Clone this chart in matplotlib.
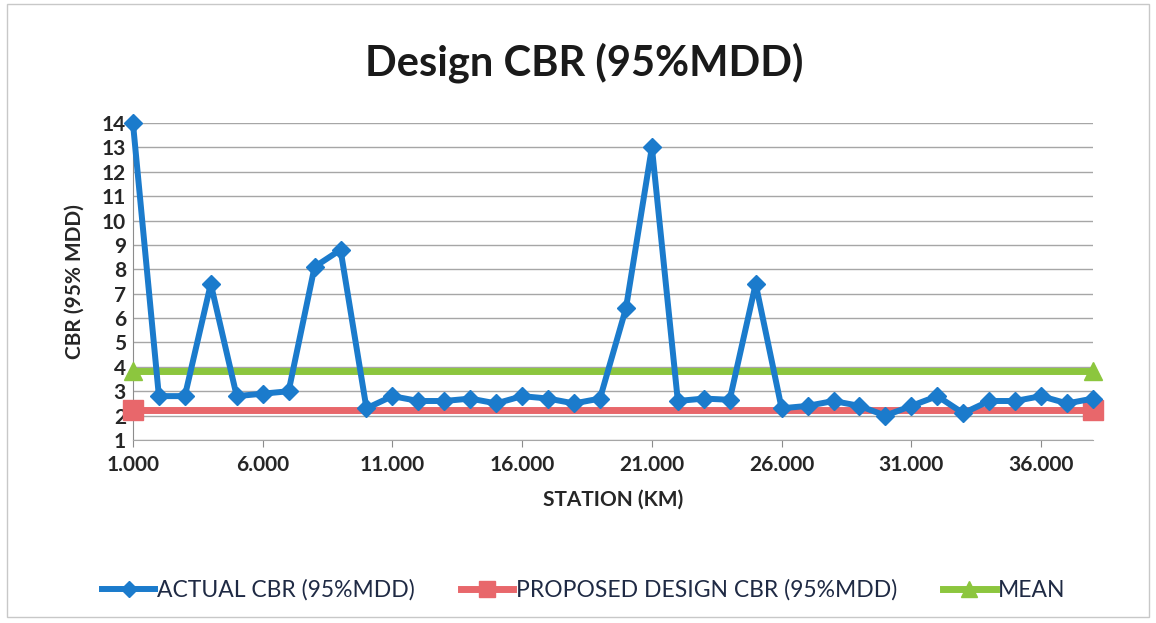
import matplotlib
matplotlib.use("Agg")
from matplotlib import pyplot as plt
from matplotlib.patches import Rectangle
import numpy as np

plt.rcParams['font.family'] = ['Lato', 'DejaVu Sans']

# stations along the road (km)
stations = list(range(1, 39))

# CBR, one per station
actual_cbr = [14.0, 2.8, 2.8, 7.4, 2.8, 2.9, 3.0, 8.1, 8.8, 2.3,
              2.8, 2.6, 2.6, 2.7, 2.5, 2.8, 2.7, 2.5, 2.7, 6.4,
              13.0, 2.6, 2.7, 2.65, 7.4, 2.3, 2.4, 2.6, 2.4, 2.0,
              2.4, 2.8, 2.1, 2.6, 2.6, 2.8, 2.5, 2.7]

# the two flat lines only have points at the ends
design_x = [1, 38]
design_cbr = [2.25, 2.25]
mean_x = [1, 38]
mean_cbr = [3.85, 3.85]

x_ticks = [1, 6, 11, 16, 21, 26, 31, 36]
y_ticks = list(range(1, 15))

blue = "#1b7bcc"
red = "#e8676b"
green = "#8cc63e"

fig = plt.figure(figsize=(11.56, 6.23), dpi=100)
ax = fig.add_axes([0.115, 0.2937, 0.8305, 0.5089])

# light frame round the whole chart
fig.patches.append(Rectangle((0.006, 0.01), 0.988, 0.983, transform=fig.transFigure,
                             fill=False, edgecolor="#c8c8c8", linewidth=1))

ax.plot(stations, actual_cbr, color=blue, linewidth=4.3, marker="D", markersize=9,
        label="ACTUAL CBR (95%MDD)", zorder=4, clip_on=False)
ax.plot(design_x, design_cbr, color=red, linewidth=5, marker="s", markersize=14,
        label="PROPOSED DESIGN CBR (95%MDD)", zorder=3, clip_on=False)
ax.plot(mean_x, mean_cbr, color=green, linewidth=5, marker="^", markersize=13,
        label="MEAN", zorder=3, clip_on=False)

ax.set_xlim(1, 38)
ax.set_ylim(1, 14)
ax.set_xticks(x_ticks)
ax.set_xticklabels(["%.3f" % v for v in x_ticks])
ax.set_yticks(y_ticks)

ax.grid(axis="y", color="#a6a6a6", linewidth=1)
ax.set_axisbelow(True)
for side in ["top", "right"]:
    ax.spines[side].set_visible(False)
ax.spines["left"].set_color("#8c8c8c")
ax.spines["bottom"].set_color("#a6a6a6")
ax.tick_params(axis="x", direction="out", length=5, color="#8c8c8c", pad=6)
ax.tick_params(axis="y", length=0, pad=5)
for lab in ax.get_xticklabels() + ax.get_yticklabels():
    lab.set_fontsize(15)
    lab.set_fontweight("bold")
    lab.set_color("#262626")

ax.set_xlabel("STATION (KM)", fontsize=15, fontweight="bold", color="#262626", labelpad=10)
ax.set_ylabel("CBR (95% MDD)", fontsize=15, fontweight="bold", color="#262626", labelpad=12)

fig.text(0.505, 0.9, "Design CBR (95%MDD)", ha="center", va="center",
         fontsize=30, fontweight="bold", color="#1a1a1a")

leg = fig.legend(loc="center", bbox_to_anchor=(0.505, 0.053), ncol=3, frameon=False,
                 fontsize=16.5, handlelength=2.3, columnspacing=2.0, handletextpad=0.1,
                 labelcolor="#1f2a44", markerscale=0.85)

fig.savefig("out.png", dpi=100)
